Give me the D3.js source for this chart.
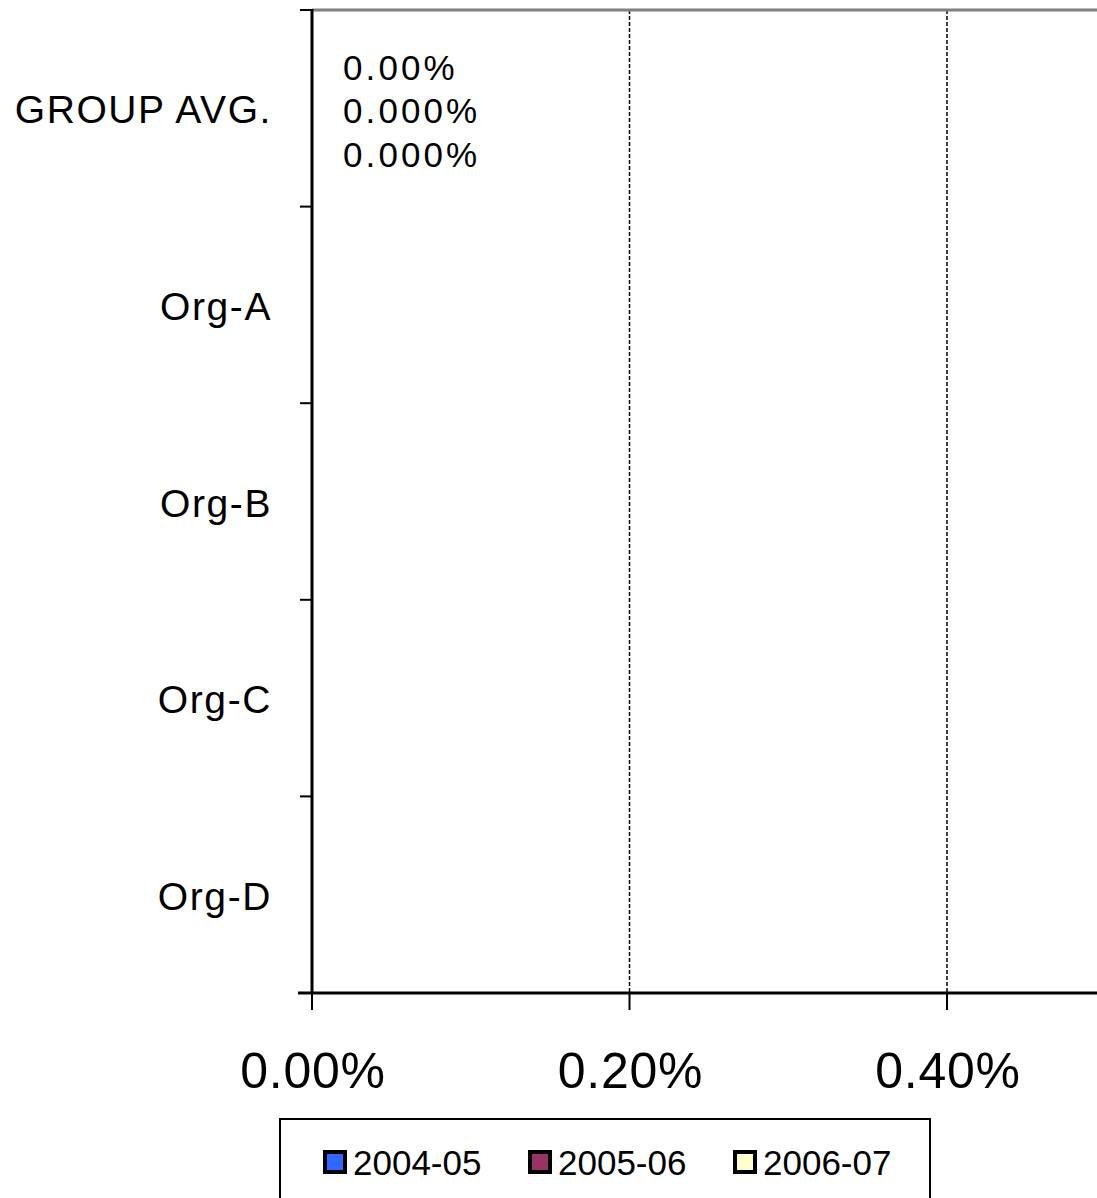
<!DOCTYPE html>
<html>
<head>
<meta charset="utf-8">
<script src="https://cdn.jsdelivr.net/npm/d3@7/dist/d3.min.js"></script>
<style>
  html, body { margin: 0; padding: 0; background: #fff; overflow: hidden; }
  svg { display: block; font-family: "Liberation Sans", Arial, sans-serif; }
</style>
</head>
<body>
<svg id="chart" width="1097" height="1198"></svg>
<script>
// ---- data ----
const categories = ["GROUP AVG.", "Org-A", "Org-B", "Org-C", "Org-D"];
const seriesNames = ["2004-05", "2005-06", "2006-07"];
const seriesColors = ["#3366FF", "#993366", "#FFFFCC"];
const values2004 = [0, 0, 0, 0, 0];
const values2005 = [0, 0, 0, 0, 0];
const values2006 = [0, 0, 0, 0, 0];
const labelledCategories = ["GROUP AVG."];
const labelDecimals = [2, 3, 3];
const xTicks = [0, 0.002, 0.004];
const xMax = 0.006;

const seriesValues = [values2004, values2005, values2006];

(function () {
// ---- layout ----
const svg = d3.select("#chart");
const plotLeft = 312, plotTop = 10, plotBottom = 993;
const step = 317.5; // px per 0.2%

const x = d3.scaleLinear().domain([0, xMax]).range([plotLeft, plotLeft + 3 * step]);
const y = d3.scaleBand().domain(categories).range([plotTop, plotBottom]).padding(0);
const ySub = d3.scaleBand().domain(seriesNames).range([0, y.bandwidth()])
  .paddingInner(0).paddingOuter(0.75);

// gridlines
svg.append("g").selectAll("line")
  .data(xTicks.filter(t => t > 0))
  .join("line")
  .attr("x1", d => x(d)).attr("x2", d => x(d))
  .attr("y1", plotTop).attr("y2", plotBottom)
  .attr("stroke", "#000").attr("stroke-width", 1.5)
  .attr("stroke-dasharray", "4,2");

// top border (plot area)
svg.append("line")
  .attr("x1", plotLeft).attr("x2", 1097).attr("y1", plotTop).attr("y2", plotTop)
  .attr("stroke", "#808080").attr("stroke-width", 3);

// bars
const barData = [];
categories.forEach((c, i) => {
  seriesNames.forEach((s, j) => {
    barData.push({ cat: c, series: s, value: seriesValues[j][i], j });
  });
});
svg.append("g").selectAll("rect")
  .data(barData)
  .join("rect")
  .attr("x", x(0))
  .attr("y", d => y(d.cat) + ySub(d.series))
  .attr("width", d => x(d.value) - x(0))
  .attr("height", ySub.bandwidth())
  .attr("fill", d => seriesColors[d.j])
  .attr("stroke", "#000");

// data labels
svg.append("g").selectAll("text")
  .data(barData.filter(d => labelledCategories.includes(d.cat)))
  .join("text")
  .attr("x", d => x(d.value) + 31)
  .attr("y", d => y(d.cat) + ySub(d.series) + ySub.bandwidth() / 2 + 15)
  .attr("font-size", 35)
  .attr("letter-spacing", 3.1)
  .attr("fill", "#000")
  .text(d => (d.value * 100).toFixed(labelDecimals[d.j]) + "%");

// y axis
const yAxis = svg.append("g");
yAxis.append("line")
  .attr("x1", plotLeft).attr("x2", plotLeft).attr("y1", plotTop - 1).attr("y2", plotBottom + 1)
  .attr("stroke", "#000").attr("stroke-width", 3);
const yTickPos = categories.map(c => y(c)).concat([plotBottom]);
yAxis.selectAll("line.tick")
  .data(yTickPos)
  .join("line").attr("class", "tick")
  .attr("x1", plotLeft - 12).attr("x2", plotLeft)
  .attr("y1", d => d).attr("y2", d => d)
  .attr("stroke", "#000").attr("stroke-width", 2);
yAxis.selectAll("text")
  .data(categories)
  .join("text")
  .attr("x", 272)
  .attr("y", d => y(d) + y.bandwidth() / 2 + 15)
  .attr("text-anchor", "end")
  .attr("font-size", 39)
  .attr("letter-spacing", 1.6)
  .attr("fill", "#000")
  .text(d => d);

// x axis
const xAxis = svg.append("g");
xAxis.append("line")
  .attr("x1", plotLeft - 14).attr("x2", 1097).attr("y1", plotBottom).attr("y2", plotBottom)
  .attr("stroke", "#000").attr("stroke-width", 3);
xAxis.selectAll("line.tick")
  .data(xTicks)
  .join("line").attr("class", "tick")
  .attr("x1", d => x(d)).attr("x2", d => x(d))
  .attr("y1", plotBottom).attr("y2", plotBottom + 17)
  .attr("stroke", "#000").attr("stroke-width", 2);
xAxis.selectAll("text")
  .data(xTicks)
  .join("text")
  .attr("x", d => x(d) + 1)
  .attr("y", 1088)
  .attr("text-anchor", "middle")
  .attr("font-size", 50)
  .attr("letter-spacing", 0.7)
  .attr("fill", "#000")
  .text(d => d3.format(".2%")(d));

// legend
const legend = svg.append("g");
legend.append("rect")
  .attr("x", 280).attr("y", 1119).attr("width", 650).attr("height", 120)
  .attr("fill", "#fff").attr("stroke", "#000").attr("stroke-width", 2);
const legendX = [325, 530, 735];
const items = legend.selectAll("g.item")
  .data(seriesNames)
  .join("g").attr("class", "item")
  .attr("transform", (d, i) => `translate(${legendX[i]},1152)`);
items.append("rect")
  .attr("x", 0).attr("y", 0).attr("width", 20).attr("height", 20)
  .attr("fill", (d, i) => seriesColors[i])
  .attr("stroke", "#000").attr("stroke-width", 4);
items.append("text")
  .attr("x", 28).attr("y", 23)
  .attr("font-size", 35)
  .attr("fill", "#000")
  .text(d => d);
})();
</script>
</body>
</html>
